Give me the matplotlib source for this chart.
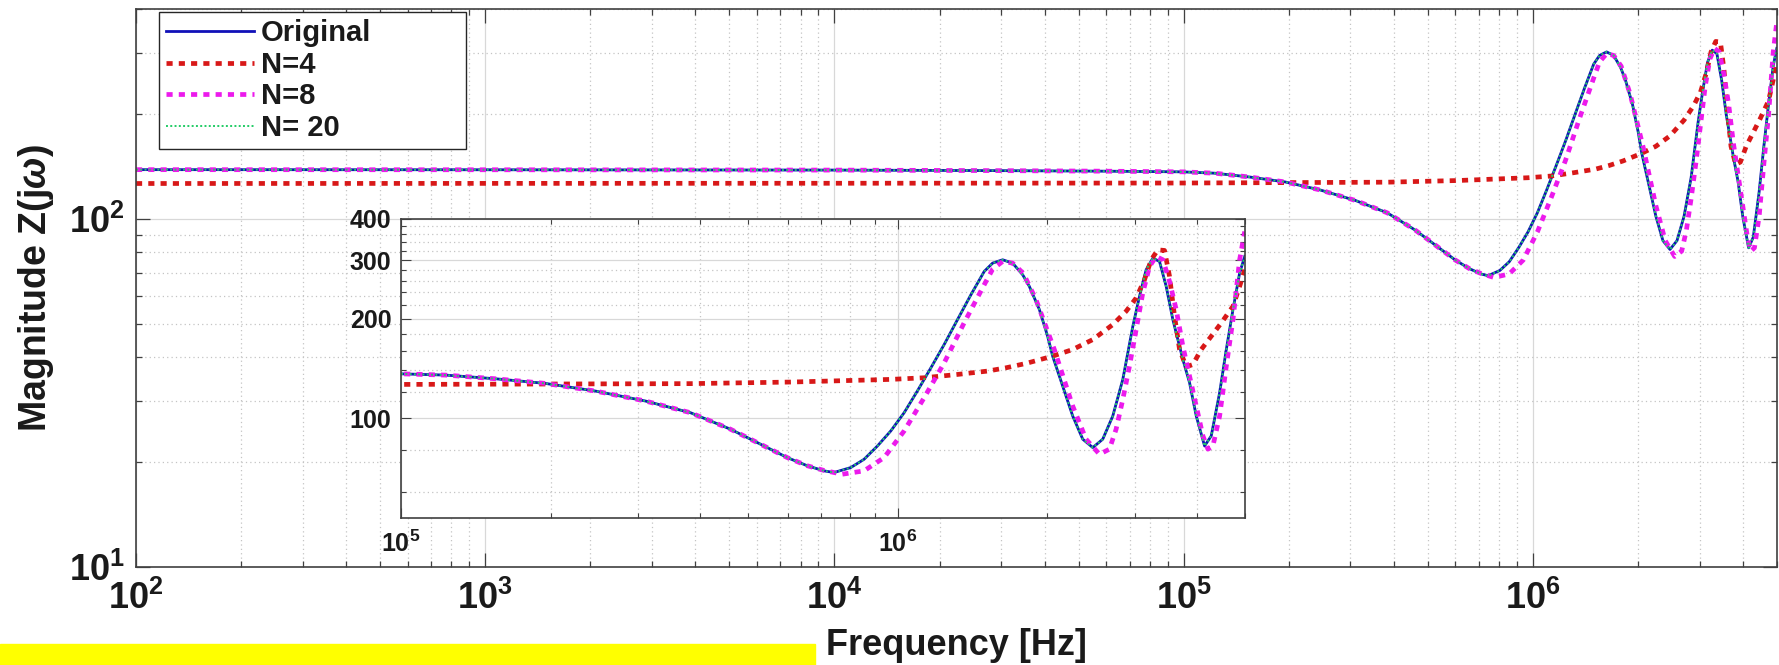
import matplotlib
matplotlib.use("Agg")
import matplotlib.pyplot as plt
from matplotlib.ticker import FuncFormatter, NullFormatter, FixedLocator, LogLocator
from matplotlib.patches import Rectangle
import numpy as np

plt.rcParams['font.family'] = ['Liberation Sans', 'DejaVu Sans']
plt.rcParams['font.weight'] = 'bold'
plt.rcParams['mathtext.fontset'] = 'custom'
plt.rcParams['mathtext.rm'] = 'Liberation Sans:bold'
plt.rcParams['mathtext.bf'] = 'Liberation Sans:bold'
plt.rcParams['mathtext.it'] = 'Liberation Sans:italic'

# values (Hz, |Z|)
freq_orig = [1e2, 1e3, 1e4, 3e4, 6e4, 9.95e4, 1.227e5, 1.547e5, 1.952e5, 2.461e5,
             3.104e5, 3.825e5, 4.198e5, 4.606e5, 4.977e5, 5.461e5, 5.993e5, 6.575e5,
             7.105e5, 7.441e5, 8.040e5, 8.553e5, 9.100e5, 9.681e5, 1.030e6, 1.095e6,
             1.166e6, 1.240e6, 1.319e6, 1.404e6, 1.493e6, 1.552e6, 1.626e6, 1.703e6,
             1.784e6, 1.840e6, 1.928e6, 2.003e6, 2.050e6, 2.148e6, 2.250e6, 2.357e6,
             2.469e6, 2.586e6, 2.709e6, 2.838e6, 2.973e6, 3.066e6, 3.162e6, 3.262e6,
             3.364e6, 3.470e6, 3.579e6, 3.749e6, 3.867e6, 3.989e6, 4.146e6, 4.276e6,
             4.445e6, 4.585e6, 4.729e6, 4.877e6, 4.993e6]
mag_orig = [138.3, 138.2, 137.9, 137.4, 136.9, 136.3, 135.1, 131.7, 127.5, 120.9,
            112.8, 104.0, 98.2, 92.7, 87.5, 81.6, 76.1, 71.9,
            69.4, 68.6, 71.0, 75.2, 82.5, 91.6, 104.0, 120.9,
            142.1, 167.1, 198.7, 236.4, 277.8, 294.3, 301.2, 294.3,
            271.5, 250.4, 213.0, 177.0, 154.1, 125.1, 101.6, 86.5,
            81.6, 86.5, 101.6, 131.1, 189.7, 233.6, 281.0, 304.7,
            297.8, 250.4, 198.7, 150.6, 128.1, 101.6, 82.5, 88.5,
            119.5, 161.4, 213.0, 274.7, 308.3]

freq_n4 = [1e2, 1e3, 1e4, 1e5, 3.825e5, 6.085e5, 9.681e5, 1.130e6, 1.319e6, 1.516e6,
           1.651e6, 1.812e6, 2.050e6, 2.250e6, 2.469e6, 2.709e6, 2.882e6, 3.019e6,
           3.138e6, 3.237e6, 3.338e6, 3.443e6, 3.524e6, 3.607e6, 3.692e6, 3.808e6,
           3.927e6, 4.082e6, 4.276e6, 4.480e6, 4.729e6, 4.877e6, 4.993e6]
mag_n4 = [126.2, 126.3, 126.4, 126.6, 127.3, 128.7, 131.1, 132.6, 135.7, 138.9,
          142.1, 146.5, 154.1, 161.4, 172.9, 191.9, 210.6, 230.9,
          262.2, 301.2, 322.8, 321.4, 268.4, 203.3, 161.4, 143.1,
          145.4, 161.4, 177.0, 194.2, 218.0, 250.4, 281.0]

freq_n8 = [1e2, 1e3, 1e4, 3e4, 6e4, 9.95e4, 1.227e5, 1.547e5, 1.952e5, 2.461e5,
           3.104e5, 3.825e5, 4.198e5, 4.606e5, 4.977e5, 5.461e5, 5.993e5, 6.575e5,
           7.105e5, 7.733e5, 8.553e5, 9.385e5, 1.030e6, 1.130e6, 1.240e6, 1.360e6,
           1.493e6, 1.552e6, 1.626e6, 1.703e6, 1.790e6, 1.898e6, 2.066e6, 2.250e6,
           2.393e6, 2.547e6, 2.667e6, 2.751e6, 2.838e6, 2.927e6, 3.019e6, 3.113e6,
           3.212e6, 3.313e6, 3.417e6, 3.524e6, 3.635e6, 3.749e6, 3.867e6, 3.989e6,
           4.114e6, 4.211e6, 4.309e6, 4.445e6, 4.585e6, 4.729e6, 4.877e6, 4.993e6]
mag_n8 = [138.3, 138.2, 137.9, 137.4, 136.9, 136.3, 135.1, 131.7, 127.5, 120.9,
          112.8, 104.0, 98.2, 92.7, 87.5, 81.6, 76.1, 71.9,
          69.6, 67.8, 69.4, 76.1, 91.6, 115.4, 147.1, 194.2,
          253.3, 282.0, 297.8, 294.3, 274.0, 228.2, 161.4, 108.9,
          86.5, 77.9, 80.7, 92.7, 114.1, 143.8, 185.4, 239.0,
          287.6, 308.3, 301.2, 259.3, 213.0, 165.2, 134.1, 108.9,
          88.5, 80.7, 82.5, 101.6, 143.8, 198.7, 301.2, 366.7]

# N=20 sits on top of the original curve
freq_n20 = freq_orig
mag_n20 = mag_orig

labels = ['Original', 'N=4', 'N=8', 'N= 20']

W, H = 1779, 665
fig = plt.figure(figsize=(W / 100, H / 100), dpi=100)
ax = fig.add_axes([136 / W, 98 / H, 1641 / W, 558 / H])
ins = fig.add_axes([401 / W, 147 / H, 844 / W, 299 / H])

spine_c = '#404040'
txt_c = '#1a1a1a'


def draw(a):
    a.plot(freq_orig, mag_orig, color='#1010b8', lw=2.0, label=labels[0])
    a.plot(freq_n4, mag_n4, color='#d81818', lw=3.4, ls=(0, (1.3, 1.3)), label=labels[1])
    a.plot(freq_n8, mag_n8, color='#ec1aec', lw=3.4, ls=(0, (1.3, 1.3)), label=labels[2])
    a.plot(freq_n20, mag_n20, color='#22cc66', lw=1.4, ls=(0, (1, 1.2)), label=labels[3])
    a.set_xscale('log')
    a.set_yscale('log')
    a.grid(True, which='major', color='#d8d8d8', lw=0.9, ls='-')
    a.grid(True, which='minor', color='#c4c4c4', lw=0.9, ls=(0, (1, 2.5)))
    a.set_axisbelow(True)
    for s in a.spines.values():
        s.set_color(spine_c)
        s.set_linewidth(1.2)
    a.xaxis.set_minor_formatter(NullFormatter())
    a.yaxis.set_minor_formatter(NullFormatter())


def pow_fmt(v, pos):
    return r'$\mathbf{10^{%d}}$' % int(round(np.log10(v)))


draw(ax)
ax.set_xlim(1e2, 5e6)
ax.set_ylim(10, 400)
ax.xaxis.set_major_locator(LogLocator(base=10))
ax.xaxis.set_major_formatter(FuncFormatter(pow_fmt))
ax.yaxis.set_major_formatter(FuncFormatter(pow_fmt))
ax.tick_params(which='both', direction='in', top=True, right=True,
               colors=spine_c, labelcolor=txt_c, labelsize=26, width=0.9)
ax.tick_params(which='major', length=10)
ax.tick_params(which='minor', length=4.5)
ax.tick_params(axis='x', pad=10)
ax.tick_params(axis='y', pad=8)
ax.set_xlabel('Frequency [Hz]', fontsize=26, fontweight='bold', color=txt_c)
ax.set_ylabel(r'Magnitude Z(j$\omega$)', fontsize=27, fontweight='bold', color=txt_c)
ax.xaxis.label.set_va('bottom')
ax.xaxis.set_label_coords(0.5, -0.172)
ax.yaxis.set_label_coords(-0.049, 0.5)

leg = ax.legend(loc='upper left', bbox_to_anchor=(0.014, 0.9946 - 0.26, 0.187, 0.26),
                mode='expand', borderaxespad=0, fontsize=21, frameon=True,
                fancybox=False, framealpha=1, edgecolor='#262626',
                handlelength=3.0, handletextpad=0.25, labelspacing=0.12,
                borderpad=0.25)
leg.get_frame().set_linewidth(1.0)
for t in leg.get_texts():
    t.set_fontweight('bold')
    t.set_color(txt_c)

draw(ins)
ins.set_facecolor('white')
ins.set_xlim(1e5, 5e6)
ins.set_ylim(50, 400)
ins.xaxis.set_major_formatter(FuncFormatter(pow_fmt))
ins.yaxis.set_major_locator(FixedLocator([100, 200, 300, 400]))
ins.yaxis.set_minor_locator(FixedLocator([60, 80, 120, 140, 160, 180, 220, 240, 260,
                                          280, 320, 340, 360, 380]))
ins.yaxis.set_major_formatter(FuncFormatter(lambda v, p: '%d' % v))
ins.tick_params(which='both', direction='in', top=True, right=True,
                colors=spine_c, labelcolor=txt_c, labelsize=18, width=0.8)
ins.tick_params(which='major', length=7)
ins.tick_params(which='minor', length=3.5)
ins.tick_params(axis='x', pad=9)
ins.tick_params(axis='y', pad=7)

# yellow strip over the bottom left corner
fig.add_artist(Rectangle((0, 0), 815 / W, 21 / H, transform=fig.transFigure,
                         color='#ffff00', zorder=10))

fig.savefig('out.png', dpi=100)
